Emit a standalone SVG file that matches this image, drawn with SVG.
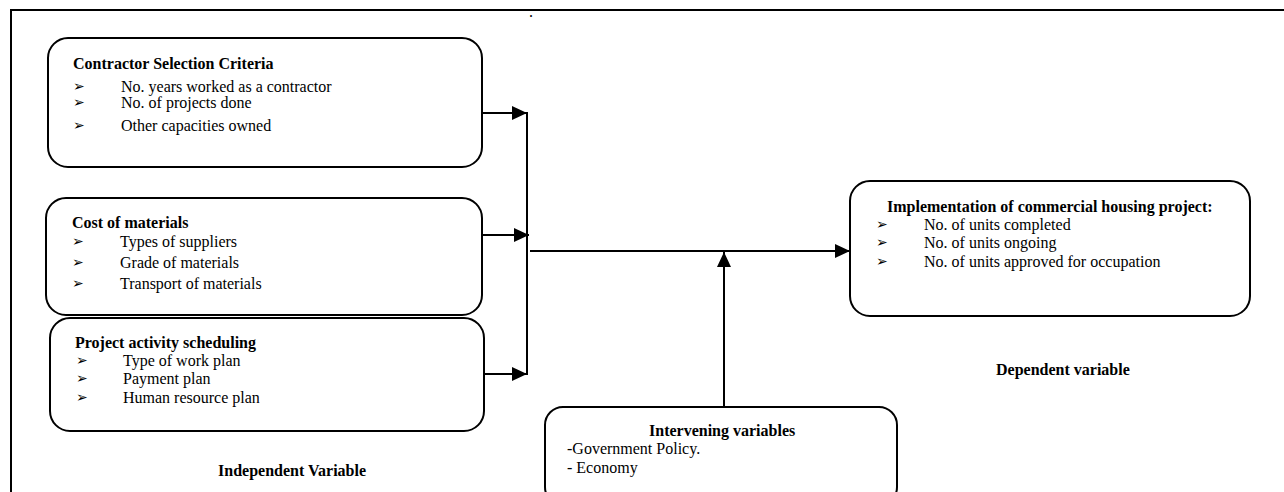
<svg xmlns="http://www.w3.org/2000/svg" width="1284" height="492" viewBox="0 0 1284 492">
<defs>
<style>
.box{fill:#fff;stroke:#000;stroke-width:2}
.frame{fill:none;stroke:#000;stroke-width:2}
.conn{fill:none;stroke:#000;stroke-width:2}
.t{font-family:"Liberation Serif","Times New Roman",serif;font-size:16px;fill:#000}
.b{font-family:"Liberation Serif","Times New Roman",serif;font-size:16px;font-weight:bold;fill:#000}
.bul{font-family:"DejaVu Sans",sans-serif;font-size:14px;fill:#000}
</style>
<marker id="ah" markerUnits="userSpaceOnUse" markerWidth="15" markerHeight="14" refX="15" refY="7" orient="auto" viewBox="0 0 15 14">
<path d="M0,0 L15,7 L0,14 Z" fill="#000"/>
</marker>
</defs>
<rect width="1284" height="492" fill="#fff"/>
<g id="frame">
<path class="frame" d="M11,492 V10 H1284"/>
<text class="t" x="529" y="17">.</text>
</g>
<g id="connectors">
<line class="conn" x1="482" y1="113" x2="527" y2="113" marker-end="url(#ah)"/>
<line class="conn" x1="483" y1="235" x2="529" y2="235" marker-end="url(#ah)"/>
<line class="conn" x1="481" y1="374" x2="527" y2="374" marker-end="url(#ah)"/>
<line class="conn" x1="527" y1="112" x2="527" y2="375"/>
<line class="conn" x1="530" y1="251" x2="850" y2="251" marker-end="url(#ah)"/>
<line class="conn" x1="724" y1="407" x2="724" y2="252" marker-end="url(#ah)"/>
</g>
<g id="box-contractor">
<rect class="box" x="48" y="38" width="434" height="129" rx="20"/>
<text class="b" x="73" y="69">Contractor Selection Criteria</text>
<text class="bul" x="73" y="91">➢</text>
<text class="t" x="121" y="92">No. years worked as a contractor</text>
<text class="bul" x="73" y="107">➢</text>
<text class="t" x="121" y="108">No. of projects done</text>
<text class="bul" x="73" y="130">➢</text>
<text class="t" x="121" y="131">Other capacities owned</text>
</g>
<g id="box-cost">
<rect class="box" x="46" y="198" width="436" height="117" rx="20"/>
<text class="b" x="72" y="228">Cost of materials</text>
<text class="bul" x="72" y="246">➢</text>
<text class="t" x="120" y="247">Types of suppliers</text>
<text class="bul" x="72" y="267">➢</text>
<text class="t" x="120" y="268">Grade of materials</text>
<text class="bul" x="72" y="288">➢</text>
<text class="t" x="120" y="289">Transport of materials</text>
</g>
<g id="box-schedule">
<rect class="box" x="50" y="318" width="434" height="113" rx="20"/>
<text class="b" x="75" y="348">Project activity scheduling</text>
<text class="bul" x="76" y="365">➢</text>
<text class="t" x="123" y="366">Type of work plan</text>
<text class="bul" x="76" y="383">➢</text>
<text class="t" x="123" y="384">Payment plan</text>
<text class="bul" x="76" y="402">➢</text>
<text class="t" x="123" y="403">Human resource plan</text>
</g>
<g id="label-independent">
<text class="b" x="218" y="476">Independent Variable</text>
</g>
<g id="box-dependent">
<rect class="box" x="850" y="181" width="400" height="135" rx="20"/>
<text class="b" x="887" y="212">Implementation of commercial housing project:</text>
<text class="bul" x="876" y="229">➢</text>
<text class="t" x="924" y="230">No. of units completed</text>
<text class="bul" x="876" y="247">➢</text>
<text class="t" x="924" y="248">No. of units ongoing</text>
<text class="bul" x="876" y="266">➢</text>
<text class="t" x="924" y="267">No. of units approved for occupation</text>
</g>
<g id="label-dependent">
<text class="b" x="996" y="375">Dependent variable</text>
</g>
<g id="box-intervening">
<rect class="box" x="545" y="407" width="352" height="98" rx="18"/>
<text class="b" x="649" y="436">Intervening variables</text>
<text class="t" x="567" y="454">-Government Policy.</text>
<text class="t" x="567" y="473">- Economy</text>
</g>
</svg>
